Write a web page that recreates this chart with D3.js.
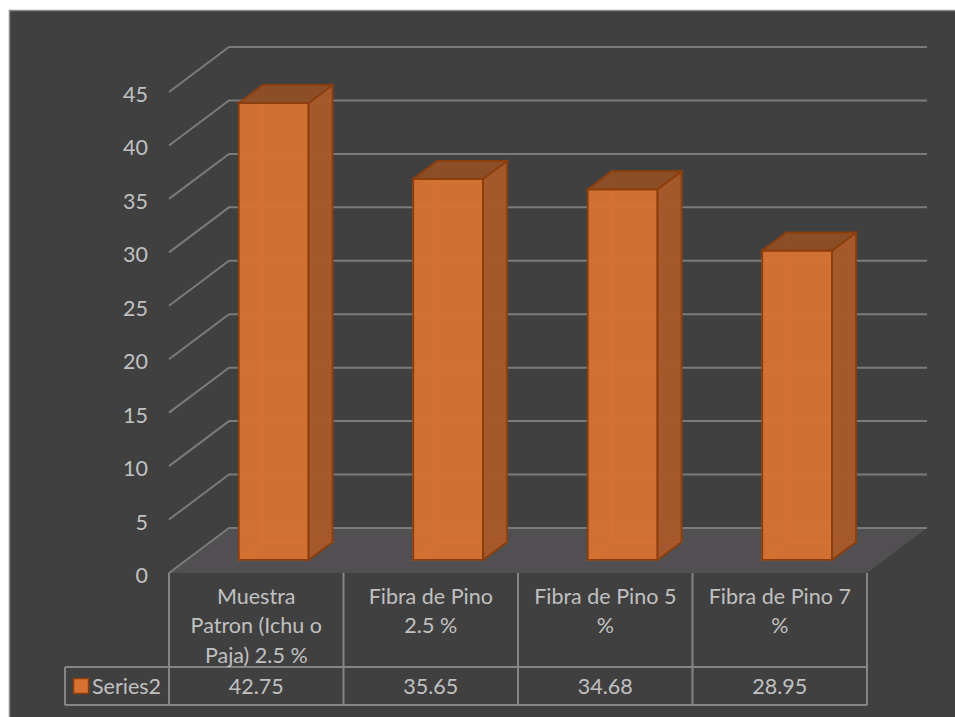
<!DOCTYPE html>
<html>
<head>
<meta charset="utf-8">
<script src="https://cdn.jsdelivr.net/npm/d3@7"></script>
<style>
  html, body { margin: 0; padding: 0; background: #ffffff; }
  svg { display: block; }
  text { font-family: Lato, "Noto Sans", sans-serif; fill: #c0c0c0; }
</style>
</head>
<body>
<svg id="chart" width="955" height="717"></svg>
<script>
// Data
const categories = ["Muestra Patron (Ichu o Paja) 2.5 %", "Fibra de Pino 2.5 %", "Fibra de Pino 5 %", "Fibra de Pino 7 %"];
const categoryLines = [["Muestra", "Patron (Ichu o", "Paja) 2.5 %"], ["Fibra de Pino", "2.5 %"], ["Fibra de Pino 5", "%"], ["Fibra de Pino 7", "%"]];
const seriesName = "Series2";
const values = [42.75, 35.65, 34.68, 28.95];
const valueLabels = ["42.75", "35.65", "34.68", "28.95"];
const yTicks = [0, 5, 10, 15, 20, 25, 30, 35, 40, 45];

// Layout
const svg = d3.select("#chart");
const left = 169, right = 867;   // front plane x extent
const baseY = 573;               // front floor line
const plotH = 481;               // height of 0..45 on the front plane
const DX = 60, DY = 45;          // depth offset of the back wall
const rowHeaderBottom = 667, rowValueBottom = 705;
const legendLeft = 65;
const fontSize = 21.5;

const x = d3.scaleBand().domain(categories).range([left, right]).paddingInner(0.6).paddingOuter(0.3);
const y = d3.scaleLinear().domain([0, 45]).range([0, plotH]);

// project a point given front-plane x, value and depth fraction (0 = front, 1 = back)
const P = (px, v, d) => [px + DX * d, baseY - DY * d - y(v)];
const poly = pts => "M" + pts.map(p => p.join(",")).join("L") + "Z";

// Chart area
svg.append("rect").attr("x", 9.5).attr("y", 10.5).attr("width", 960).attr("height", 720)
  .attr("fill", "#404040").attr("stroke", "#8a8a8a").attr("stroke-width", 1.5);

// Floor
svg.append("path")
  .attr("d", poly([P(left, 0, 0), P(left, 0, 1), P(right, 0, 1), P(right, 0, 0)]))
  .attr("fill", "#514f51");

// Gridlines: side wall diagonals + back wall horizontals
const grid = svg.append("g").attr("fill", "none").attr("stroke", "#7b7b7b").attr("stroke-width", 2);
yTicks.forEach(t => {
  grid.append("path").attr("d", "M" + [P(left, t, 0), P(left, t, 1), P(right, t, 1)].map(p => p.join(",")).join("L"));
});

// Tick labels
svg.append("g").selectAll("text").data(yTicks).join("text")
  .attr("x", 148).attr("y", d => baseY - y(d) + 2.5)
  .attr("dy", "0.35em").attr("text-anchor", "end")
  .attr("font-size", fontSize).text(d => d);

// Bars as semi-transparent boxes
const d0 = 0.29, d1 = 0.69;
const edge = "#8b3d0c";
const bars = svg.append("g");
categories.forEach((c, i) => {
  const x0 = x(c), x1 = x(c) + x.bandwidth(), v = values[i];
  const g = bars.append("g");
  // hidden faces seen through the front
  const hidden = [
    [P(x0, 0, d0), P(x0, 0, d1), P(x0, v, d1), P(x0, v, d0)],
    [P(x0, 0, d1), P(x1, 0, d1), P(x1, v, d1), P(x0, v, d1)],
    [P(x0, 0, d0), P(x1, 0, d0), P(x1, 0, d1), P(x0, 0, d1)]
  ];
  hidden.forEach(f => g.append("path").attr("d", poly(f))
    .attr("fill", "#d87232").attr("fill-opacity", 0.35)
    .attr("stroke", "#e07a38").attr("stroke-width", 1.2).attr("stroke-opacity", 0.8));
  // front
  g.append("path").attr("d", poly([P(x0, 0, d0), P(x1, 0, d0), P(x1, v, d0), P(x0, v, d0)]))
    .attr("fill", "#d77231").attr("fill-opacity", 0.93).attr("stroke", edge).attr("stroke-width", 1.8);
  // right side
  g.append("path").attr("d", poly([P(x1, 0, d0), P(x1, 0, d1), P(x1, v, d1), P(x1, v, d0)]))
    .attr("fill", "#a8592a").attr("fill-opacity", 0.95).attr("stroke", edge).attr("stroke-width", 1.8);
  // top
  g.append("path").attr("d", poly([P(x0, v, d0), P(x1, v, d0), P(x1, v, d1), P(x0, v, d1)]))
    .attr("fill", "#8c4e26").attr("fill-opacity", 0.95).attr("stroke", edge).attr("stroke-width", 1.8);
});

// Data table grid
const step = x.step();
const tbl = svg.append("g").attr("fill", "none").attr("stroke", "#858585").attr("stroke-width", 2);
const bounds = d3.range(categories.length + 1).map(k => left + k * step);
bounds.forEach(bx => tbl.append("line").attr("x1", bx).attr("x2", bx).attr("y1", baseY).attr("y2", rowValueBottom));
tbl.append("line").attr("x1", legendLeft).attr("x2", right).attr("y1", rowHeaderBottom).attr("y2", rowHeaderBottom);
tbl.append("line").attr("x1", legendLeft).attr("x2", right).attr("y1", rowValueBottom).attr("y2", rowValueBottom);
tbl.append("line").attr("x1", legendLeft).attr("x2", legendLeft).attr("y1", rowHeaderBottom).attr("y2", rowValueBottom);

// Category headers
categories.forEach((c, i) => {
  const cx = x(c) + x.bandwidth() / 2;
  const t = svg.append("text").attr("text-anchor", "middle").attr("font-size", fontSize);
  categoryLines[i].forEach((ln, j) => {
    t.append("tspan").attr("x", cx).attr("y", 596 + j * 29.5).attr("dy", "0.35em").text(ln);
  });
});

// Values row
svg.append("g").selectAll("text").data(categories).join("text")
  .attr("x", c => x(c) + x.bandwidth() / 2).attr("y", 686).attr("dy", "0.35em")
  .attr("text-anchor", "middle").attr("font-size", fontSize)
  .text((c, i) => valueLabels[i]);

// Legend key
svg.append("rect").attr("x", 73.5).attr("y", 678.5).attr("width", 15).attr("height", 15)
  .attr("fill", "#d77231").attr("stroke", edge).attr("stroke-width", 1.5);
svg.append("text").attr("x", 92).attr("y", 686).attr("dy", "0.35em").attr("font-size", fontSize).text(seriesName);
</script>
</body>
</html>
